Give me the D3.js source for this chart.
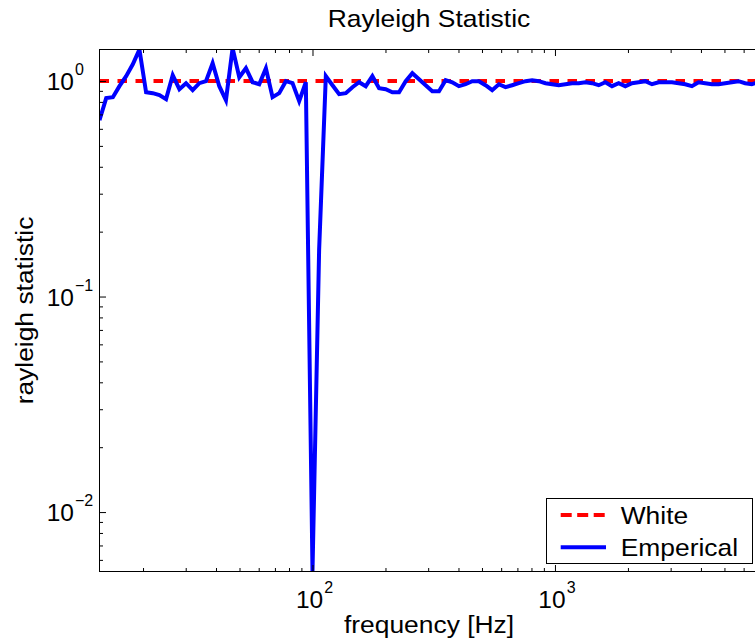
<!DOCTYPE html>
<html><head><meta charset="utf-8">
<script src="https://cdn.jsdelivr.net/npm/d3@7"></script>
<style>
body{margin:0;background:#fff}
text{font-family:"Liberation Sans",Arial,Helvetica,sans-serif;fill:#000}
</style>
</head><body>
<svg id="chart" width="755" height="644"></svg>
<script>
// ---------------- data ----------------
const frequencies = [13.23,14.10,15.02,15.99,17.04,18.15,19.33,20.59,21.94,23.37,24.89,26.52,28.25,30.09,32.05,34.14,36.37,38.74,41.27,43.96,46.83,49.89,53.14,56.61,60.30,64.24,68.43,72.90,77.66,82.72,88.12,93.87,
100.0,106.5,113.5,120.9,128.8,137.2,146.1,155.7,165.8,176.6,188.2,200.4,213.5,227.5,242.3,258.1,275.0,292.9,312.0,332.4,354.0,377.1,401.7,427.9,455.8,485.6,517.2,551.0,586.9,625.3,666.1,709.5,755.8,805.2,857.7,913.7,
973.2,1036.7,1104.4,1176.5,1253.1,1335.0,1422.1,1514.9,1613.8,1719.1,1831.4,1950.9,2078.2,2213.9,2358.4,2512.3,2676.3,2851.0,3037.1,3235.3,3446.5,3671.5,3911.1,4166.4,4438.4,4728.1,5036.7,5365.5,5715.7,6088.8,6486.2,6909.6];

const empirical = [0.658,0.833,0.841,0.946,1.053,1.196,1.40,0.887,0.878,0.860,0.824,1.064,0.916,0.977,0.907,0.977,0.998,1.209,0.946,0.815,1.42,1.041,1.146,0.987,0.966,1.146,0.841,0.878,0.998,0.977,0.806,0.987,
0.0053,0.1646,1.053,0.956,0.869,0.878,0.936,0.987,0.946,1.053,0.926,0.916,0.887,0.887,0.998,1.087,1.019,0.956,0.897,0.897,1.009,0.987,0.946,0.966,0.998,0.998,0.956,0.907,0.966,0.936,0.956,0.977,0.998,1.009,0.998,0.977,
0.966,0.956,0.966,0.977,0.977,0.987,0.977,0.956,0.987,0.946,0.977,0.946,0.977,0.987,0.998,0.966,0.987,0.987,0.987,0.977,0.966,0.946,0.987,0.977,0.966,0.966,0.977,0.987,0.998,0.977,0.966,0.987];

const whiteFreq = [13.23, 6909.6];
const whiteLevel = [1, 1];

const xDomain = [13.23, 6909.6];
const yDomain = [0.0053, 1.4];
const xTickExponents = [2, 3];
const yTickExponents = [0, -1, -2];
const seriesNames = ["White", "Emperical"];
const titleText = "Rayleigh Statistic";
const xLabelText = "frequency [Hz]";
const yLabelText = "rayleigh statistic";

// ---------------- layout ----------------
const L = 99.5, R = 758.5, T = 49.5, B = 571.5;
const svg = d3.select("#chart");
svg.append("rect").attr("width",755).attr("height",644).attr("fill","#fff");

const x = d3.scaleLog().domain(xDomain).range([L, R]);
const y = d3.scaleLog().domain(yDomain).range([B, T]);

const xMajor = xTickExponents.map(e => Math.pow(10, e));
const yMajor = yTickExponents.map(e => Math.pow(10, e));
const isMajor = v => Math.abs(Math.log10(v) - Math.round(Math.log10(v))) < 1e-9;
const xMinor = x.ticks().filter(v => !isMajor(v));
const yMinor = y.ticks().filter(v => !isMajor(v));

svg.append("defs").append("clipPath").attr("id","plotclip")
  .append("rect").attr("x",L).attr("y",T).attr("width",R-L).attr("height",B-T);

const plot = svg.append("g").attr("clip-path","url(#plotclip)");

// White (reference) line
const lineW = d3.line().x((d,i)=>x(whiteFreq[i])).y(d=>y(d));
plot.append("path").datum(whiteLevel).attr("d", lineW)
  .attr("fill","none").attr("stroke","#ff0000").attr("stroke-width",4)
  .attr("stroke-dasharray","9.5,8.5");

// Empirical line
const lineE = d3.line().x((d,i)=>x(frequencies[i])).y(d=>y(d));
plot.append("path").datum(empirical).attr("d", lineE)
  .attr("fill","none").attr("stroke","#0000ff").attr("stroke-width",4)
  .attr("stroke-linejoin","miter").attr("stroke-miterlimit",4);

// ticks via d3 axes
function tickAxis(axisFn, scale, values, size, transform){
  const g = svg.append("g").attr("transform", transform)
    .call(axisFn(scale).tickValues(values).tickSizeInner(-size).tickSizeOuter(0).tickFormat(""));
  g.select(".domain").remove();
  g.selectAll(".tick line").attr("stroke","#000").attr("stroke-width",1);
  return g;
}
tickAxis(d3.axisBottom, x, xMinor, 3.5, `translate(0,${B})`);
tickAxis(d3.axisBottom, x, xMajor, 6.5, `translate(0,${B})`);
tickAxis(d3.axisTop, x, xMinor, 3.5, `translate(0,${T})`);
tickAxis(d3.axisTop, x, xMajor, 6.5, `translate(0,${T})`);
tickAxis(d3.axisLeft, y, yMinor, 3.5, `translate(${L},0)`);
tickAxis(d3.axisLeft, y, yMajor, 6.5, `translate(${L},0)`);

// box
svg.append("rect").attr("x",L).attr("y",T).attr("width",R-L).attr("height",B-T)
  .attr("fill","none").attr("stroke","#000").attr("stroke-width",1);

// x tick labels
xTickExponents.forEach(e => {
  const t = svg.append("text").attr("x", x(Math.pow(10,e)) + 2).attr("y", 608)
    .attr("text-anchor","middle").style("font-size","24.5px");
  t.append("tspan").text("10");
  t.append("tspan").attr("dy",-14.7).attr("dx",1).style("font-size","16px").text(String(e).replace("-","\u2212"));
});
// y tick labels
yTickExponents.forEach(e => {
  const t = svg.append("text").attr("x", 46.7).attr("y", y(Math.pow(10,e)) + 9)
    .attr("text-anchor","start").style("font-size","24.5px");
  t.append("tspan").text("10");
  t.append("tspan").attr("dy",-14.7).attr("dx",1).style("font-size","16px").text(String(e).replace("-","\u2212"));
});

// stretched text helper
function stext(str, tx, ty, anchor, rot){
  svg.append("text")
    .attr("transform", `translate(${tx},${ty})` + (rot ? ` rotate(${rot})` : "") + " scale(1.1,1)")
    .attr("text-anchor", anchor).style("font-size","24px").text(str);
}
stext(titleText, (L+R)/2, 27, "middle");
stext(xLabelText, (L+R)/2, 633, "middle");
stext(yLabelText, 33, (T+B)/2, "middle", -90);

// legend
const lg = svg.append("g");
lg.append("rect").attr("x",546.5).attr("y",498.5).attr("width",206).attr("height",65)
  .attr("fill","#fff").attr("stroke","#000").attr("stroke-width",1);
lg.append("line").attr("x1",560.7).attr("x2",606).attr("y1",515).attr("y2",515)
  .attr("stroke","#ff0000").attr("stroke-width",4).attr("stroke-dasharray","11,5.5");
lg.append("line").attr("x1",560.7).attr("x2",606).attr("y1",547.3).attr("y2",547.3)
  .attr("stroke","#0000ff").attr("stroke-width",4);
[524, 556].forEach((by, i) => {
  lg.append("text").attr("transform",`translate(620.7,${by}) scale(1.1,1)`)
    .style("font-size","24px").text(seriesNames[i]);
});
</script>
</body></html>
